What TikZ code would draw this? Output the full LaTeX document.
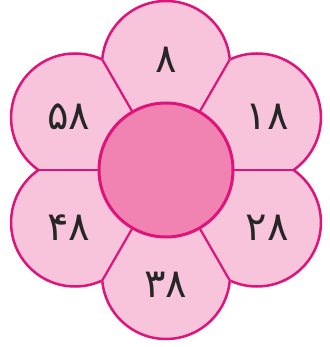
\documentclass[tikz,border=0pt]{standalone}
\usepackage{fontspec}
\newfontfamily\farsi[Script=Arabic]{DejaVu Sans}

\definecolor{petalpink}{RGB}{247,196,219}
\definecolor{hubpink}{RGB}{240,131,178}
\definecolor{edgepink}{RGB}{222,20,122}

\tikzset{
  petaltext/.style={font=\farsi\fontsize{40}{40}\selectfont, text=black!85},
  hub/.style={circle, draw=edgepink, line width=3pt, fill=hubpink,
    minimum size=134pt, inner sep=0pt},
}

\begin{document}
\begin{tikzpicture}[x=1pt,y=1pt]

  \useasboundingbox (-166,-177) rectangle (163,170);

  % --- petali (riempimento) ---
  \foreach \a in {90,30,-30,-90,-150,150}
    \fill[petalpink] (\a:105) circle (64);

  % --- contorni, ognuno nel suo settore ---
  \foreach \a in {90,30,-30,-90,-150,150} {
    \begin{scope}
      \clip (0,0) -- (\a-30:300) arc[start angle=\a-30, end angle=\a+30, radius=300] -- cycle;
      \draw[edgepink, line width=2.5pt] (\a:105) circle (64);
    \end{scope}
    \draw[edgepink, line width=2.2pt] (\a+30:60) -- (\a+30:126.5);
  }

  % --- centro ---
  \node[hub] (hub) at (0,0) {};

  % --- numeri ---
  \node[petaltext] (n8)  at (0,110)    {۸};
  \node[petaltext] (n18) at (101,53)   {۱۸};
  \node[petaltext] (n28) at (101,-58)  {۲۸};
  \node[petaltext] (n38) at (0,-115)   {۳۸};
  \node[petaltext] (n48) at (-97,-58)  {۴۸};
  \node[petaltext] (n58) at (-97,53)   {۵۸};

\end{tikzpicture}
\end{document}
